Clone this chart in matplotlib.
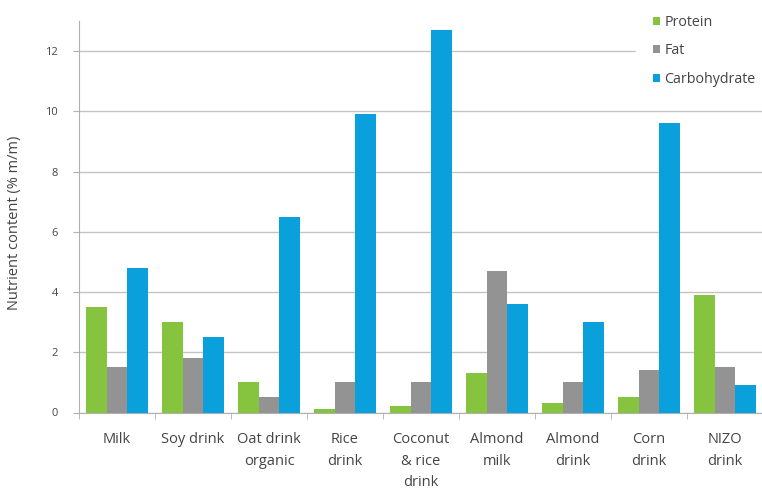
import numpy as np
import matplotlib.pyplot as plt
from matplotlib.ticker import FixedLocator

categories = ["Milk", "Soy drink", "Oat drink\norganic", "Rice\ndrink",
              "Coconut\n& rice\ndrink", "Almond\nmilk", "Almond\ndrink",
              "Corn\ndrink", "NIZO\ndrink"]
protein = [3.5, 3.0, 1.0, 0.1, 0.2, 1.3, 0.3, 0.5, 3.9]
fat = [1.5, 1.8, 0.5, 1.0, 1.0, 4.7, 1.0, 1.4, 1.5]
carbohydrate = [4.8, 2.5, 6.5, 9.9, 12.7, 3.6, 3.0, 9.6, 0.9]

plt.rcParams["font.family"] = ["Open Sans", "DejaVu Sans"]

fig = plt.figure(figsize=(7.62, 4.95), dpi=100)
ax = fig.add_axes([79 / 762, 82.5 / 495, 684 / 762, 391.5 / 495])

x = np.arange(len(categories))
w = 0.27
ax.bar(x - w, protein, w, color="#86c440", label="Protein", zorder=3)
ax.bar(x, fat, w, color="#939393", label="Fat", zorder=3)
ax.bar(x + w, carbohydrate, w, color="#0aa0dc", label="Carbohydrate", zorder=3)

ax.set_xlim(-0.5, len(categories) - 0.5)
ax.set_ylim(0, 13)
ax.set_yticks(range(0, 13, 2))
ax.yaxis.grid(True, color="#c4c4c4", linewidth=1.0, zorder=0)
ax.set_axisbelow(True)

ax.set_xticks(x)
ax.set_xticklabels(categories, fontsize=10.5, color="#444444", linespacing=1.6)
ax.tick_params(axis="x", which="major", length=0, pad=14)
ax.xaxis.set_minor_locator(FixedLocator(np.arange(-0.5, len(categories), 1.0)))
ax.tick_params(axis="x", which="minor", length=4, color="#b0b0b0")
ax.tick_params(axis="y", length=4, color="#b0b0b0", labelsize=8, labelcolor="#444444", pad=11)

for s in ["top", "right"]:
    ax.spines[s].set_visible(False)
for s in ["left", "bottom"]:
    ax.spines[s].set_color("#b0b0b0")

ax.set_ylabel("Nutrient content (% m/m)", fontsize=10.5, color="#444444")
ax.yaxis.set_label_coords(-0.083, 0.485)

# white frame so the 12-gridline stops short of the legend, as in the original
leg = ax.legend(loc="upper right", bbox_to_anchor=(1.014, 1.060), frameon=True,
                fontsize=10.3, handlelength=0.5, handleheight=0.5, handletextpad=0.3,
                labelspacing=0.95, borderaxespad=0, borderpad=1.2)
leg.get_frame().set_edgecolor("white")
leg.get_frame().set_facecolor("white")
leg.get_frame().set_alpha(1.0)
for t in leg.get_texts():
    t.set_color("#444444")

fig.savefig("out.png", dpi=100)
